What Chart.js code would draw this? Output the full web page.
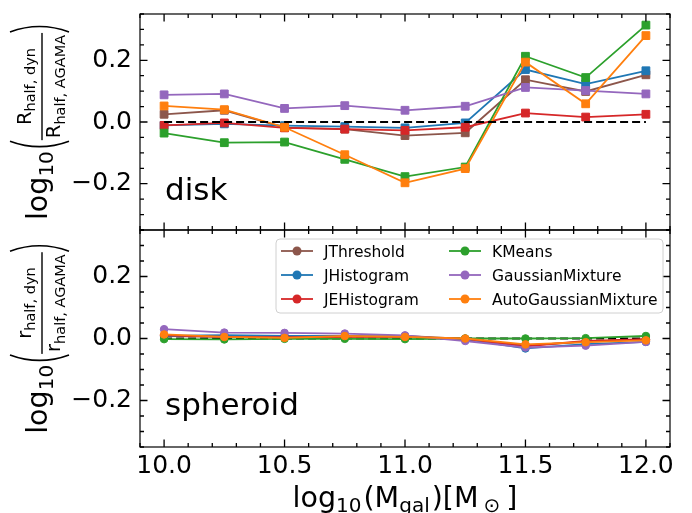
<!DOCTYPE html>
<html>
<head>
<meta charset="utf-8">
<script src="https://cdn.jsdelivr.net/npm/chart.js@4.4.1/dist/chart.umd.min.js"></script>
<style>
    html, body { margin: 0; padding: 0; background: #fff; }
    #wrap { position: relative; width: 692px; height: 513px; }
    #wrap canvas { position: absolute; left: 0; top: 0; }
</style>
</head>
<body>
<div id="wrap">
    <canvas id="diskChart" width="692" height="513"></canvas>
    <canvas id="spheroidChart" width="692" height="513"></canvas>
</div>
<script>
// x values: log10 of galaxy mass
const massBins = [10.0, 10.25, 10.5, 10.75, 11.0, 11.25, 11.5, 11.75, 12.0];

const methodNames = ['JThreshold', 'JHistogram', 'JEHistogram', 'KMeans', 'GaussianMixture', 'AutoGaussianMixture'];
const methodColors = ['#8c564b', '#1f77b4', '#d62728', '#2ca02c', '#9467bd', '#ff7f0e'];

// disk: log10(R_half,dyn / R_half,AGAMA)
const diskJThreshold = [0.025, 0.038, -0.018, -0.023, -0.044, -0.035, 0.137, 0.099, 0.153];
const diskJHistogram = [-0.011, -0.006, -0.012, -0.015, -0.019, -0.003, 0.170, 0.123, 0.166];
const diskJEHistogram = [-0.011, -0.003, -0.019, -0.023, -0.027, -0.017, 0.029, 0.016, 0.025];
const diskKMeans = [-0.036, -0.067, -0.065, -0.121, -0.177, -0.146, 0.213, 0.144, 0.314];
const diskGaussianMixture = [0.088, 0.091, 0.044, 0.053, 0.038, 0.051, 0.112, 0.102, 0.091];
const diskAutoGaussianMixture = [0.052, 0.040, -0.017, -0.106, -0.197, -0.151, 0.194, 0.059, 0.280];

// spheroid: log10(r_half,dyn / r_half,AGAMA)
const sphJThreshold = [0.008, 0.005, 0.003, 0.005, 0.008, -0.001, -0.022, -0.011, -0.003];
const sphJHistogram = [0.008, 0.011, 0.008, 0.008, 0.005, -0.002, -0.032, -0.018, -0.011];
const sphJEHistogram = [0.010, 0.005, 0.004, 0.005, 0.005, -0.001, -0.025, -0.008, -0.002];
const sphKMeans = [-0.002, -0.003, -0.001, -0.001, -0.002, 0.000, 0.000, 0.001, 0.008];
const sphGaussianMixture = [0.030, 0.019, 0.018, 0.016, 0.010, -0.008, -0.029, -0.023, -0.011];
const sphAutoGaussianMixture = [0.013, 0.005, 0.002, 0.008, 0.005, 0.000, -0.019, -0.012, -0.006];

// dashed reference line
const zeroLineX = [10.0, 12.0];
const zeroLineY = [0, 0];

// axes
const xRange = [9.9, 12.1];
const yRange = [-0.35, 0.35];
const xMajorTicks = [10.0, 10.5, 11.0, 11.5, 12.0];
const yMajorTicks = [-0.2, 0.0, 0.2];

const FONT = '"DejaVu Sans", sans-serif';

function makeDatasets(series, pointStyle, radius, zeroOrder) {
    const sets = series.map((vals, i) => ({
        label: methodNames[i],
        data: massBins.map((m, k) => ({ x: m, y: vals[k] })),
        borderColor: methodColors[i],
        backgroundColor: methodColors[i],
        borderWidth: 1.8,
        pointStyle: pointStyle,
        pointRadius: radius,
        pointBorderWidth: 1,
        order: 5 - i
    }));
    sets.push({
        label: '',
        data: zeroLineX.map((x, k) => ({ x: x, y: zeroLineY[k] })),
        borderColor: '#000',
        borderWidth: 1.8,
        borderDash: [8, 4],
        pointRadius: 0,
        order: zeroOrder
    });
    return sets;
}

function fmtY(v) {
    const s = Math.abs(v).toFixed(1);
    return v < -1e-9 ? '\u2212' + s : s;
}

// frame with inward ticks on all four sides
const frameTicks = {
    id: 'frameTicks',
    afterDraw(chart) {
        const { ctx, chartArea: a, scales } = chart;
        const xs = scales.x, ys = scales.y;
        ctx.save();
        ctx.strokeStyle = '#000';
        ctx.lineWidth = 1.3;
        ctx.beginPath();
        for (let k = 99; k <= 121; k++) {
            const v = k / 10;
            const px = xs.getPixelForValue(v);
            const len = k % 5 === 0 ? 7.5 : 4;
            ctx.moveTo(px, a.bottom); ctx.lineTo(px, a.bottom - len);
            ctx.moveTo(px, a.top); ctx.lineTo(px, a.top + len);
        }
        for (let k = -7; k <= 7; k++) {
            const v = k * 0.05;
            const py = ys.getPixelForValue(v);
            const len = k % 4 === 0 ? 7.5 : 4;
            ctx.moveTo(a.left, py); ctx.lineTo(a.left + len, py);
            ctx.moveTo(a.right, py); ctx.lineTo(a.right - len, py);
        }
        ctx.stroke();
        ctx.lineWidth = 1.2;
        ctx.strokeRect(a.left, a.top, a.right - a.left, a.bottom - a.top);
        ctx.restore();
    }
};

// panel name inside the axes
const panelText = {
    id: 'panelText',
    afterDraw(chart, args, opts) {
        const ctx = chart.ctx;
        ctx.save();
        ctx.fillStyle = '#000';
        ctx.font = '31px ' + FONT;
        ctx.textBaseline = 'alphabetic';
        ctx.fillText(opts.text, chart.chartArea.left + 25, chart.chartArea.top + opts.dy);
        ctx.restore();
    }
};

// y label: log10( X_half,dyn / X_half,AGAMA )
function drawRatioLabel(ctx, baseX, centerY, sym) {
    const F = 28.5, S = 20, N = 19.5, T = 14.5;
    const font = s => s + 'px ' + FONT;
    ctx.save();
    ctx.font = font(F); const wLog = ctx.measureText('log').width;
    ctx.font = font(S); const w10 = ctx.measureText('10').width;
    ctx.font = font(N); const wSym = ctx.measureText(sym).width;
    ctx.font = font(T);
    const wNum = ctx.measureText('half, dyn').width;
    const wDen = ctx.measureText('half, AGAMA').width;
    const numW = wSym + wNum, denW = wSym + wDen;
    const fracW = Math.max(numW, denW) + 4;
    const parenW = 9, gap = 2;
    const total = wLog + w10 + gap + parenW + fracW + parenW;

    ctx.translate(baseX, centerY);
    ctx.rotate(-Math.PI / 2);
    ctx.fillStyle = '#000';
    ctx.strokeStyle = '#000';
    ctx.textAlign = 'left';
    ctx.textBaseline = 'alphabetic';
    let x = -total / 2;
    ctx.font = font(F); ctx.fillText('log', x, 0); x += wLog;
    ctx.font = font(S); ctx.fillText('10', x, 5.5); x += w10 + gap;

    const top = -37, bot = 22, mid = (top + bot) / 2;
    ctx.lineWidth = 1.6;
    ctx.beginPath();
    ctx.moveTo(x + parenW - 1, top);
    ctx.quadraticCurveTo(x - 3, mid, x + parenW - 1, bot);
    ctx.stroke();
    x += parenW;

    const nx = x + (fracW - numW) / 2;
    ctx.font = font(N); ctx.fillText(sym, nx, -16);
    ctx.font = font(T); ctx.fillText('half, dyn', nx + wSym, -12);
    ctx.fillRect(x, -5.7, fracW, 1.4);
    const dx = x + (fracW - denW) / 2;
    ctx.font = font(N); ctx.fillText(sym, dx, 13);
    ctx.font = font(T); ctx.fillText('half, AGAMA', dx + wSym, 17.5);
    x += fracW;

    ctx.beginPath();
    ctx.moveTo(x + 1, top);
    ctx.quadraticCurveTo(x + parenW + 3, mid, x + 1, bot);
    ctx.stroke();
    ctx.restore();
}

const yTitle = {
    id: 'yTitle',
    afterDraw(chart, args, opts) {
        const a = chart.chartArea;
        drawRatioLabel(chart.ctx, 47, (a.top + a.bottom) / 2, opts.sym);
    }
};

// x label: log10(M_gal)[M_sun]
const xTitle = {
    id: 'xTitle',
    afterDraw(chart) {
        const ctx = chart.ctx;
        const F = 28.5, S = 20;
        // text, size, baseline shift, extra space after
        const parts = [
            ['log', F, 0, 0], ['10', S, 5, 2], ['(', F, 0, 0], ['M', F, 0, 0], ['gal', S, 5, 2],
            [')', F, 0, 0], ['[', F, 0, 0], ['M', F, 0, 5], ['\u2299', S, 5, 6], [']', F, 0, 0]
        ];
        ctx.save();
        ctx.fillStyle = '#000';
        ctx.textBaseline = 'alphabetic';
        let total = 0;
        parts.forEach(p => { ctx.font = p[1] + 'px ' + FONT; total += ctx.measureText(p[0]).width + p[3]; });
        const a = chart.chartArea;
        let x = (a.left + a.right) / 2 - total / 2;
        parts.forEach(p => {
            ctx.font = p[1] + 'px ' + FONT;
            ctx.fillText(p[0], x, 506.5 + p[2]);
            x += ctx.measureText(p[0]).width + p[3];
        });
        ctx.restore();
    }
};

// two-column legend in the lower panel
const boxLegend = {
    id: 'boxLegend',
    afterDraw(chart) {
        const ctx = chart.ctx;
        const items = chart.data.datasets.filter(d => d.label);
        ctx.save();
        ctx.beginPath();
        ctx.roundRect(276, 239, 387, 74, 4);
        ctx.fillStyle = 'rgba(255,255,255,0.8)';
        ctx.fill();
        ctx.strokeStyle = '#d0d0d0';
        ctx.lineWidth = 1;
        ctx.stroke();
        ctx.font = '15.5px ' + FONT;
        ctx.textBaseline = 'alphabetic';
        items.forEach((d, i) => {
            const col = Math.floor(i / 3), row = i % 3;
            const lx = [281, 449][col];
            const ty = 251 + row * 24;
            ctx.strokeStyle = d.borderColor;
            ctx.lineWidth = 1.8;
            ctx.beginPath(); ctx.moveTo(lx, ty); ctx.lineTo(lx + 32, ty); ctx.stroke();
            ctx.fillStyle = d.borderColor;
            ctx.beginPath(); ctx.arc(lx + 16, ty, 4.5, 0, Math.PI * 2); ctx.fill();
            ctx.fillStyle = '#000';
            ctx.fillText(d.label, lx + 43, ty + 5.5);
        });
        ctx.restore();
    }
};

function yScale() {
    return {
        min: yRange[0],
        max: yRange[1],
        afterFit(s) { s.width = 140; s.paddingTop = 0; s.paddingBottom = 0; },
        afterBuildTicks(s) { s.ticks = yMajorTicks.map(v => ({ value: v })); },
        grid: { display: false, drawTicks: false },
        border: { display: false },
        ticks: { font: { family: FONT, size: 25 }, color: '#000', padding: 8, callback: fmtY }
    };
}

document.addEventListener('DOMContentLoaded', function() {
    Chart.defaults.font.family = FONT;

    new Chart(document.getElementById('diskChart'), {
        type: 'line',
        data: {
            datasets: makeDatasets(
                [diskJThreshold, diskJHistogram, diskJEHistogram, diskKMeans, diskGaussianMixture, diskAutoGaussianMixture],
                'rect', 5.5, -1)
        },
        options: {
            responsive: false,
            animation: false,
            layout: { autoPadding: false, padding: { top: 14, bottom: 283, left: 0, right: 22 } },
            plugins: {
                legend: { display: false },
                tooltip: { enabled: false },
                panelText: { text: 'disk', dy: 186 },
                yTitle: { sym: 'R' }
            },
            scales: {
                x: { type: 'linear', min: xRange[0], max: xRange[1], display: false },
                y: yScale()
            }
        },
        plugins: [frameTicks, panelText, yTitle]
    });

    new Chart(document.getElementById('spheroidChart'), {
        type: 'line',
        data: {
            datasets: makeDatasets(
                [sphJThreshold, sphJHistogram, sphJEHistogram, sphKMeans, sphGaussianMixture, sphAutoGaussianMixture],
                'circle', 3.8, 10)
        },
        options: {
            responsive: false,
            animation: false,
            layout: { autoPadding: false, padding: { top: 230, bottom: 0, left: 0, right: 22 } },
            plugins: {
                legend: { display: false },
                tooltip: { enabled: false },
                panelText: { text: 'spheroid', dy: 185 },
                yTitle: { sym: 'r' }
            },
            scales: {
                x: {
                    type: 'linear',
                    min: xRange[0],
                    max: xRange[1],
                    afterFit(s) { s.height = 66; s.paddingLeft = 0; s.paddingRight = 0; },
                    afterBuildTicks(s) { s.ticks = xMajorTicks.map(v => ({ value: v })); },
                    grid: { display: false, drawTicks: false },
                    border: { display: false },
                    ticks: {
                        font: { family: FONT, size: 25 },
                        color: '#000',
                        padding: 4,
                        maxRotation: 0,
                        callback: v => v.toFixed(1)
                    }
                },
                y: yScale()
            }
        },
        plugins: [frameTicks, panelText, yTitle, xTitle, boxLegend]
    });
});
</script>
</body>
</html>
